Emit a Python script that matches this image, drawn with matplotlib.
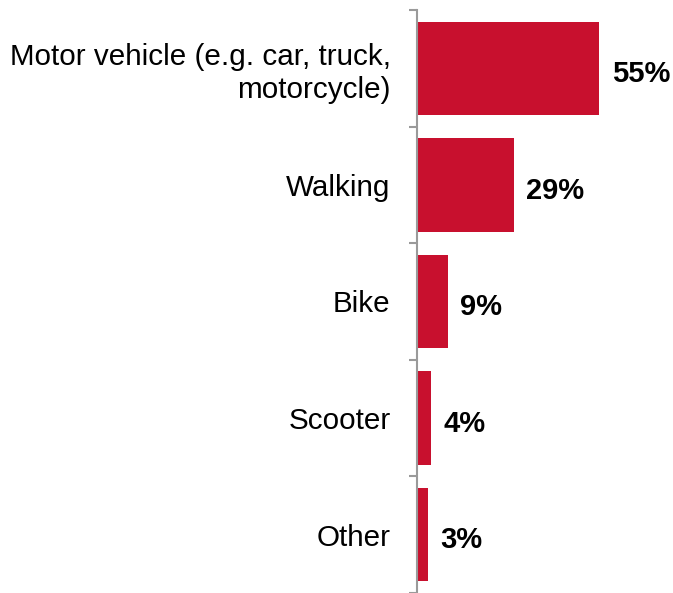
import matplotlib.pyplot as plt
import numpy as np

plt.rcParams['font.family'] = ['Liberation Sans', 'DejaVu Sans']

categories = ['Motor vehicle (e.g. car, truck,\nmotorcycle)', 'Walking', 'Bike', 'Scooter', 'Other']
values = [55, 29, 9, 4, 3]
labels = ['55%', '29%', '9%', '4%', '3%']

red = '#C8102E'
grey = '#9A9A9A'

fig = plt.figure(figsize=(6.73, 5.93), dpi=100)
ax = fig.add_axes([417 / 673, 0, 256 / 673, 1 - 10 / 593])

y = np.arange(len(categories))
ax.barh(y, values, height=0.8, color=red, left=0.3)
ax.set_ylim(len(categories) - 0.5, -0.5)
ax.set_xlim(0, 256 / 3.3)

for yi, v, lab in zip(y, values, labels):
    ax.annotate(lab, (v + 0.3, yi), xytext=(9, -2), textcoords='offset points',
                va='center_baseline', ha='left', fontsize=21, fontweight='bold',
                annotation_clip=False)

ax.set_yticks(y)
ax.set_yticklabels(categories, fontsize=21.3, linespacing=1.2, ha='right')
ax.tick_params(axis='y', which='major', length=0, pad=19)
ax.set_yticks(np.arange(len(categories) + 1) - 0.5, minor=True)
ax.tick_params(axis='y', which='minor', length=6, width=1.5, color=grey, direction='out')
ax.set_xticks([])

for s in ['top', 'right', 'bottom']:
    ax.spines[s].set_visible(False)
ax.spines['left'].set_color(grey)
ax.spines['left'].set_linewidth(1.5)

fig.savefig('out.png', dpi=100)
